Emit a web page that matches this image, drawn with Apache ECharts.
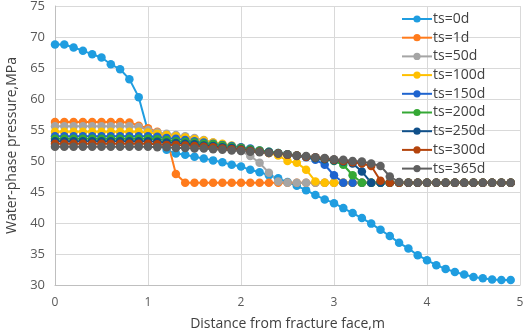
<!DOCTYPE html>
<html>
<head>
<meta charset="UTF-8">
<title></title>
<style>
  html, body { margin: 0; padding: 0; background: #fff; }
  #main { width: 526px; height: 333px; }
</style>
</head>
<body>
<div id="main"></div>
<script src="https://cdn.jsdelivr.net/npm/echarts@6/dist/echarts.min.js"></script>
<script>
// distance from fracture face, m
var dist = [0, 0.1, 0.2, 0.3, 0.4, 0.5, 0.6, 0.7, 0.8, 0.9,
            1.0, 1.1, 1.2, 1.3, 1.4, 1.5, 1.6, 1.7, 1.8, 1.9,
            2.0, 2.1, 2.2, 2.3, 2.4, 2.5, 2.6, 2.7, 2.8, 2.9,
            3.0, 3.1, 3.2, 3.3, 3.4, 3.5, 3.6, 3.7, 3.8, 3.9,
            4.0, 4.1, 4.2, 4.3, 4.4, 4.5, 4.6, 4.7, 4.8, 4.9];

var names = ['ts=0d', 'ts=1d', 'ts=50d', 'ts=100d', 'ts=150d', 'ts=200d', 'ts=250d', 'ts=300d', 'ts=365d'];
var colors = ['#1f9de0', '#ff7b1c', '#a5a5a5', '#ffc000', '#1f64cf', '#35a835', '#10508a', '#b4440c', '#5f5f5f'];

var ts0 = [68.8, 68.8, 68.3, 67.8, 67.2, 66.7, 65.6, 64.8, 63.2, 60.3,
           54.8, 52.8, 51.8, 51.2, 51.0, 50.7, 50.4, 50.1, 49.8, 49.4,
           49.1, 48.6, 48.2, 47.7, 47.2, 46.6, 46.0, 45.3, 44.5, 43.8,
           43.2, 42.4, 41.6, 40.8, 39.9, 38.9, 37.9, 36.8, 35.9, 34.8,
           34.0, 33.2, 32.6, 32.1, 31.7, 31.3, 31.1, 30.9, 30.8, 30.8];
var ts1 = [56.3, 56.3, 56.3, 56.3, 56.3, 56.3, 56.3, 56.3, 56.2, 55.7,
           55.3, 54.7, 53.8, 47.9, 46.5, 46.5, 46.5, 46.5, 46.5, 46.5,
           46.5, 46.5, 46.5, 46.5, 46.5, 46.5, 46.5, 46.5, 46.5, 46.5,
           46.5, 46.5, 46.5, 46.5, 46.5, 46.5, 46.5, 46.5, 46.5, 46.5,
           46.5, 46.5, 46.5, 46.5, 46.5, 46.5, 46.5, 46.5, 46.5, 46.5];
var ts50 = [55.6, 55.6, 55.6, 55.6, 55.6, 55.6, 55.6, 55.6, 55.6, 55.5,
            55.0, 54.6, 54.4, 54.2, 54.0, 53.7, 53.4, 53.0, 52.6, 52.1,
            51.6, 50.8, 49.7, 48.1, 46.7, 46.5, 46.5, 46.5, 46.5, 46.5,
            46.5, 46.5, 46.5, 46.5, 46.5, 46.5, 46.5, 46.5, 46.5, 46.5,
            46.5, 46.5, 46.5, 46.5, 46.5, 46.5, 46.5, 46.5, 46.5, 46.5];
var ts100 = [54.7, 54.7, 54.7, 54.7, 54.7, 54.7, 54.7, 54.7, 54.7, 54.7,
             54.6, 54.4, 54.2, 54.0, 53.8, 53.5, 53.3, 53.0, 52.8, 52.5,
             52.2, 51.9, 51.6, 51.3, 50.9, 50.0, 49.7, 48.6, 46.7, 46.5,
             46.5, 46.5, 46.5, 46.5, 46.5, 46.5, 46.5, 46.5, 46.5, 46.5,
             46.5, 46.5, 46.5, 46.5, 46.5, 46.5, 46.5, 46.5, 46.5, 46.5];
var ts150 = [54.0, 54.0, 54.0, 54.0, 54.0, 54.0, 54.0, 54.0, 54.0, 54.0,
             54.0, 53.9, 53.7, 53.6, 53.4, 53.2, 53.0, 52.8, 52.6, 52.4,
             52.2, 52.0, 51.7, 51.5, 51.3, 51.1, 50.9, 50.6, 50.2, 49.4,
             47.7, 46.5, 46.5, 46.5, 46.5, 46.5, 46.5, 46.5, 46.5, 46.5,
             46.5, 46.5, 46.5, 46.5, 46.5, 46.5, 46.5, 46.5, 46.5, 46.5];
var ts200 = [53.6, 53.6, 53.6, 53.6, 53.6, 53.6, 53.6, 53.6, 53.6, 53.6,
             53.6, 53.5, 53.4, 53.2, 53.1, 53.0, 52.8, 52.7, 52.5, 52.3,
             52.1, 51.9, 51.7, 51.5, 51.3, 51.1, 50.9, 50.7, 50.5, 50.3,
             50.0, 49.4, 47.7, 46.5, 46.5, 46.5, 46.5, 46.5, 46.5, 46.5,
             46.5, 46.5, 46.5, 46.5, 46.5, 46.5, 46.5, 46.5, 46.5, 46.5];
var ts250 = [53.2, 53.2, 53.2, 53.2, 53.2, 53.2, 53.2, 53.2, 53.2, 53.2,
             53.2, 53.1, 53.0, 52.9, 52.8, 52.7, 52.5, 52.4, 52.2, 52.1,
             51.9, 51.7, 51.5, 51.4, 51.2, 51.0, 50.8, 50.7, 50.5, 50.3,
             50.1, 49.9, 49.6, 48.3, 46.5, 46.5, 46.5, 46.5, 46.5, 46.5,
             46.5, 46.5, 46.5, 46.5, 46.5, 46.5, 46.5, 46.5, 46.5, 46.5];
var ts300 = [52.8, 52.8, 52.8, 52.8, 52.8, 52.8, 52.8, 52.8, 52.8, 52.8,
             52.8, 52.7, 52.6, 52.6, 52.5, 52.4, 52.3, 52.2, 52.0, 51.9,
             51.8, 51.6, 51.5, 51.3, 51.2, 51.0, 50.9, 50.7, 50.6, 50.4,
             50.2, 50.0, 49.8, 49.6, 49.2, 46.8, 46.5, 46.5, 46.5, 46.5,
             46.5, 46.5, 46.5, 46.5, 46.5, 46.5, 46.5, 46.5, 46.5, 46.5];
var ts365 = [52.3, 52.3, 52.3, 52.3, 52.3, 52.3, 52.3, 52.3, 52.3, 52.3,
             52.3, 52.2, 52.2, 52.1, 52.1, 52.0, 52.0, 51.9, 51.8, 51.7,
             51.6, 51.5, 51.4, 51.3, 51.2, 51.1, 50.9, 50.8, 50.6, 50.5,
             50.3, 50.2, 50.0, 49.9, 49.6, 49.2, 47.5, 46.6, 46.5, 46.5,
             46.5, 46.5, 46.5, 46.5, 46.5, 46.5, 46.5, 46.5, 46.5, 46.5];

var allValues = [ts0, ts1, ts50, ts100, ts150, ts200, ts250, ts300, ts365];

var myChart = echarts.init(document.getElementById('main'));

var series = names.map(function (n, k) {
    return {
        name: n,
        type: 'line',
        data: allValues[k].map(function (v, i) { return [dist[i], v]; }),
        symbol: 'circle',
        symbolSize: 8.5,
        lineStyle: { color: colors[k], width: 2 },
        itemStyle: { color: colors[k] },
        animation: false
    };
});

myChart.setOption({
    animation: false,
    textStyle: { fontFamily: 'Open Sans' },
    grid: { left: 55, top: 6, right: 6, bottom: 48, outerBoundsMode: 'none' },
    legend: {
        orient: 'vertical',
        left: 396,
        top: 7,
        itemWidth: 30,
        itemHeight: 9,
        itemGap: 4.7,
        textStyle: { fontSize: 14, color: '#404040', fontFamily: 'Open Sans', padding: [0, 0, 0, -4] },
        data: names
    },
    xAxis: {
        type: 'value',
        min: 0,
        max: 5,
        interval: 1,
        name: 'Distance from fracture face,m',
        nameLocation: 'middle',
        nameGap: 32,
        nameTextStyle: { fontSize: 14, color: '#404040' },
        axisLine: { lineStyle: { color: '#bfbfbf' } },
        axisTick: { show: false },
        axisLabel: { fontSize: 12, color: '#595959', margin: 12 },
        splitLine: { lineStyle: { color: '#d9d9d9' } }
    },
    yAxis: {
        type: 'value',
        min: 30,
        max: 75,
        interval: 5,
        name: 'Water-phase pressure,MPa',
        nameLocation: 'middle',
        nameGap: 34,
        nameTextStyle: { fontSize: 14, color: '#404040' },
        axisLine: { show: true, lineStyle: { color: '#bfbfbf' } },
        axisTick: { show: false },
        axisLabel: { fontSize: 13, color: '#595959', margin: 10 },
        splitLine: { lineStyle: { color: '#d9d9d9' } }
    },
    series: series
});
</script>
</body>
</html>
